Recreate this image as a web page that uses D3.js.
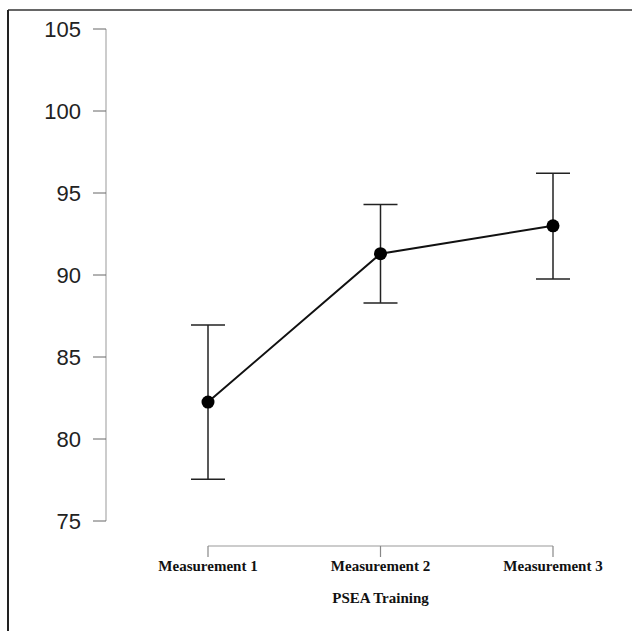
<!DOCTYPE html>
<html>
<head>
<meta charset="utf-8">
<script src="https://cdn.jsdelivr.net/npm/d3@7"></script>
<style>
body{margin:0;background:#fff;}
</style>
</head>
<body>
<script>
var categories = ["Measurement 1","Measurement 2","Measurement 3"];
var means = [82.25, 91.3, 93.0];
var lower = [77.55, 88.3, 89.75];
var upper = [86.95, 94.3, 96.2];
var yTicks = [75,80,85,90,95,100,105];
var xTitle = "PSEA Training";

var width = 632, height = 631;
var svg = d3.select('body').append('svg').attr('width',width).attr('height',height);

// frame (top + left only, as in the picture)
svg.append('line').attr('x1',8).attr('x2',width).attr('y1',10).attr('y2',10).attr('stroke','#333').attr('stroke-width',1.5);
svg.append('line').attr('x1',8).attr('x2',8).attr('y1',10).attr('y2',height).attr('stroke','#222').attr('stroke-width',2);

var y = d3.scaleLinear().domain([75,105]).range([521,29]);
var x = d3.scalePoint().domain(categories).range([208,553]);

// y axis
var gy = svg.append('g').attr('transform','translate(106,0)');
gy.append('line').attr('x1',0).attr('x2',0).attr('y1',y(75)).attr('y2',y(105)).attr('stroke','#aaa').attr('stroke-width',1.2);
gy.selectAll('line.tick').data(yTicks).enter().append('line').attr('class','tick')
	.attr('x1',-13).attr('x2',0).attr('y1',function(d){return y(d);}).attr('y2',function(d){return y(d);})
	.attr('stroke','#666').attr('stroke-width',1);
gy.selectAll('text').data(yTicks).enter().append('text')
	.attr('x',-25).attr('y',function(d){return y(d);}).attr('dy','0.36em')
	.attr('text-anchor','end').attr('font-family','Liberation Sans, Arial, sans-serif')
	.attr('font-size',22).attr('fill','#222').text(function(d){return d;});

// x axis
var gx = svg.append('g').attr('transform','translate(0,546)');
gx.append('line').attr('x1',x(categories[0])).attr('x2',x(categories[2])).attr('y1',0).attr('y2',0).attr('stroke','#999').attr('stroke-width',1.2);
gx.selectAll('line.tick').data(categories).enter().append('line').attr('class','tick')
	.attr('x1',function(d){return x(d);}).attr('x2',function(d){return x(d);}).attr('y1',0).attr('y2',11)
	.attr('stroke','#888').attr('stroke-width',1.2);
gx.selectAll('text').data(categories).enter().append('text')
	.attr('x',function(d){return x(d);}).attr('y',20).attr('dy','0.36em')
	.attr('text-anchor','middle').attr('font-family','Liberation Serif, Times New Roman, serif')
	.attr('font-weight','bold').attr('font-size',15).attr('fill','#111').text(function(d){return d;});
svg.append('text').attr('x',x(categories[1])).attr('y',598).attr('dy','0.36em')
	.attr('text-anchor','middle').attr('font-family','Liberation Serif, Times New Roman, serif')
	.attr('font-weight','bold').attr('font-size',15).attr('fill','#111').text(xTitle);

var data = categories.map(function(c,i){return {cat:c,m:means[i],lo:lower[i],hi:upper[i]};});

// error bars
var eb = svg.selectAll('g.err').data(data).enter().append('g').attr('class','err');
eb.append('line').attr('x1',function(d){return x(d.cat);}).attr('x2',function(d){return x(d.cat);})
	.attr('y1',function(d){return y(d.lo);}).attr('y2',function(d){return y(d.hi);}).attr('stroke','#222').attr('stroke-width',1.5);
eb.append('line').attr('x1',function(d){return x(d.cat)-17;}).attr('x2',function(d){return x(d.cat)+17;})
	.attr('y1',function(d){return y(d.hi);}).attr('y2',function(d){return y(d.hi);}).attr('stroke','#222').attr('stroke-width',1.5);
eb.append('line').attr('x1',function(d){return x(d.cat)-17;}).attr('x2',function(d){return x(d.cat)+17;})
	.attr('y1',function(d){return y(d.lo);}).attr('y2',function(d){return y(d.lo);}).attr('stroke','#222').attr('stroke-width',1.5);

// line + points
var line = d3.line().x(function(d){return x(d.cat);}).y(function(d){return y(d.m);});
svg.append('path').datum(data).attr('d',line).attr('fill','none').attr('stroke','#111').attr('stroke-width',2);
svg.selectAll('circle').data(data).enter().append('circle')
	.attr('cx',function(d){return x(d.cat);}).attr('cy',function(d){return y(d.m);}).attr('r',6.5).attr('fill','#000');
</script>
</body>
</html>
